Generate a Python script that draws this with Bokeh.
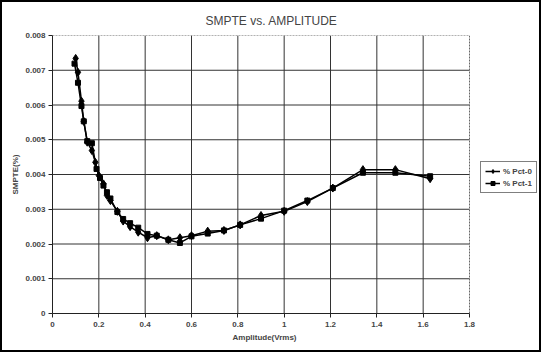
from bokeh.plotting import figure
from bokeh.models import Legend, LegendItem, FixedTicker, Range1d, Title
from bokeh.embed import file_html
from bokeh.resources import INLINE

# Data
x_pct0 = [0.10, 0.11, 0.125, 0.135, 0.15, 0.17, 0.185, 0.20, 0.22, 0.235, 0.25, 0.28, 0.305, 0.335, 0.37,
          0.41, 0.45, 0.50, 0.55, 0.60, 0.67, 0.74, 0.81, 0.90, 1.00, 1.10, 1.21, 1.34, 1.48, 1.63]
y_pct0 = [0.00734, 0.00694, 0.00611, 0.00553, 0.00493, 0.00469, 0.00435, 0.00397, 0.00373, 0.00340,
          0.00325, 0.00294, 0.00266, 0.00250, 0.00234, 0.00218, 0.00224, 0.00212, 0.00218, 0.00224,
          0.00237, 0.00239, 0.00255, 0.00282, 0.00294, 0.00322, 0.00361, 0.00414, 0.00414, 0.00388]
x_pct1 = [0.095, 0.11, 0.125, 0.135, 0.15, 0.17, 0.19, 0.205, 0.22, 0.235, 0.25, 0.28, 0.305, 0.335, 0.37,
          0.41, 0.45, 0.50, 0.55, 0.60, 0.67, 0.74, 0.81, 0.90, 1.00, 1.10, 1.21, 1.34, 1.48, 1.63]
y_pct1 = [0.00719, 0.00664, 0.00597, 0.00553, 0.00496, 0.00490, 0.00416, 0.00390, 0.00368, 0.00349,
          0.00331, 0.00292, 0.00272, 0.00260, 0.00247, 0.00229, 0.00224, 0.00212, 0.00203, 0.00222,
          0.00230, 0.00239, 0.00255, 0.00273, 0.00296, 0.00325, 0.00361, 0.00405, 0.00405, 0.00395]

x_ticks = [0, 0.2, 0.4, 0.6, 0.8, 1.0, 1.2, 1.4, 1.6, 1.8]
x_tick_labels = ["0", "0.2", "0.4", "0.6", "0.8", "1", "1.2", "1.4", "1.6", "1.8"]
y_ticks = [0, 0.001, 0.002, 0.003, 0.004, 0.005, 0.006, 0.007, 0.008]
y_tick_labels = ["0", "0.001", "0.002", "0.003", "0.004", "0.005", "0.006", "0.007", "0.008"]

X_MAX = 1.8
Y_MAX = 0.008
FONT = "Liberation Sans"

# frame is widened to the right so that the legend can sit inside it;
# the visible plot area still ends at X_MAX
FRAME_W = 541 - 50 - 4
X_END = X_MAX * FRAME_W / 417.0

p = figure(width=541, height=352, output_backend="svg", toolbar_location=None,
           x_range=Range1d(0, X_END), y_range=Range1d(0, Y_MAX),
           min_border_left=50, min_border_right=4, min_border_top=33, min_border_bottom=41,
           styles={"border": "2px solid black"})

p.title.text = "SMPTE vs. AMPLITUDE"
p.title.align = "left"
p.title.text_font = FONT
p.title.text_font_size = "12px"
p.title.text_font_style = "normal"
p.title.offset = 153
p.title.standoff = 15

p.outline_line_color = None

p.xaxis.ticker = FixedTicker(ticks=x_ticks)
p.yaxis.ticker = FixedTicker(ticks=y_ticks)
p.xaxis.bounds = (0, X_MAX)
p.xaxis.major_label_overrides = {t: l for t, l in zip(x_ticks, x_tick_labels)}
p.yaxis.major_label_overrides = {t: l for t, l in zip(y_ticks, y_tick_labels)}
for ax in (p.xaxis, p.yaxis):
    ax.major_label_text_font = FONT
    ax.major_label_text_font_size = "8px"
    ax.major_label_text_font_style = "bold"
    ax.axis_label_text_font = FONT
    ax.axis_label_text_font_size = "8px"
    ax.axis_label_text_font_style = "bold"
    ax.axis_line_color = "#222222"
    ax.major_tick_line_color = "#222222"
    ax.major_tick_out = 4
    ax.major_tick_in = 0
    ax.minor_tick_line_color = None
p.yaxis.axis_label = "SMPTE(%)"
p.yaxis.axis_label_standoff = 2
p.xaxis.major_label_standoff = 4
p.yaxis.major_label_standoff = 3

# x-axis title placed under the visible plot area
p.add_layout(Title(text="Amplitude(Vrms)", align="left", offset=180, standoff=2,
                   text_font=FONT, text_font_size="8px", text_font_style="bold"), "below")

# grid lines drawn over the visible plot area only
p.grid.visible = False
p.segment(x0=x_ticks[1:-1], y0=[0] * (len(x_ticks) - 2), x1=x_ticks[1:-1], y1=[Y_MAX] * (len(x_ticks) - 2),
          line_color="#333333", line_width=1)
p.segment(x0=[0] * (len(y_ticks) - 2), y0=y_ticks[1:-1], x1=[X_MAX] * (len(y_ticks) - 2), y1=y_ticks[1:-1],
          line_color="#333333", line_width=1)
# dotted frame top and right
p.segment(x0=[0, X_MAX], y0=[Y_MAX, 0], x1=[X_MAX, X_MAX], y1=[Y_MAX, Y_MAX],
          line_color="#666666", line_width=1, line_dash="2 1")

l0 = p.line(x_pct0, y_pct0, line_color="black", line_width=1.5)
m0 = p.scatter(x_pct0, y_pct0, marker="diamond", size=8, fill_color="black", line_color="black")
l1 = p.line(x_pct1, y_pct1, line_color="black", line_width=1.5)
m1 = p.scatter(x_pct1, y_pct1, marker="square", size=5, fill_color="black", line_color="black")

legend = Legend(items=[LegendItem(label="% Pct-0", renderers=[l0, m0]),
                       LegendItem(label="% Pct-1", renderers=[l1, m1])],
                location=(428, 120), border_line_color="black", border_line_width=1,
                background_fill_color="white", label_text_font=FONT, label_text_font_size="8px",
                label_text_font_style="bold", glyph_width=15, glyph_height=10,
                label_height=10, spacing=2, padding=4, margin=0, label_standoff=3)
p.add_layout(legend, "center")

open("out.html", "w").write(file_html(p, INLINE))
